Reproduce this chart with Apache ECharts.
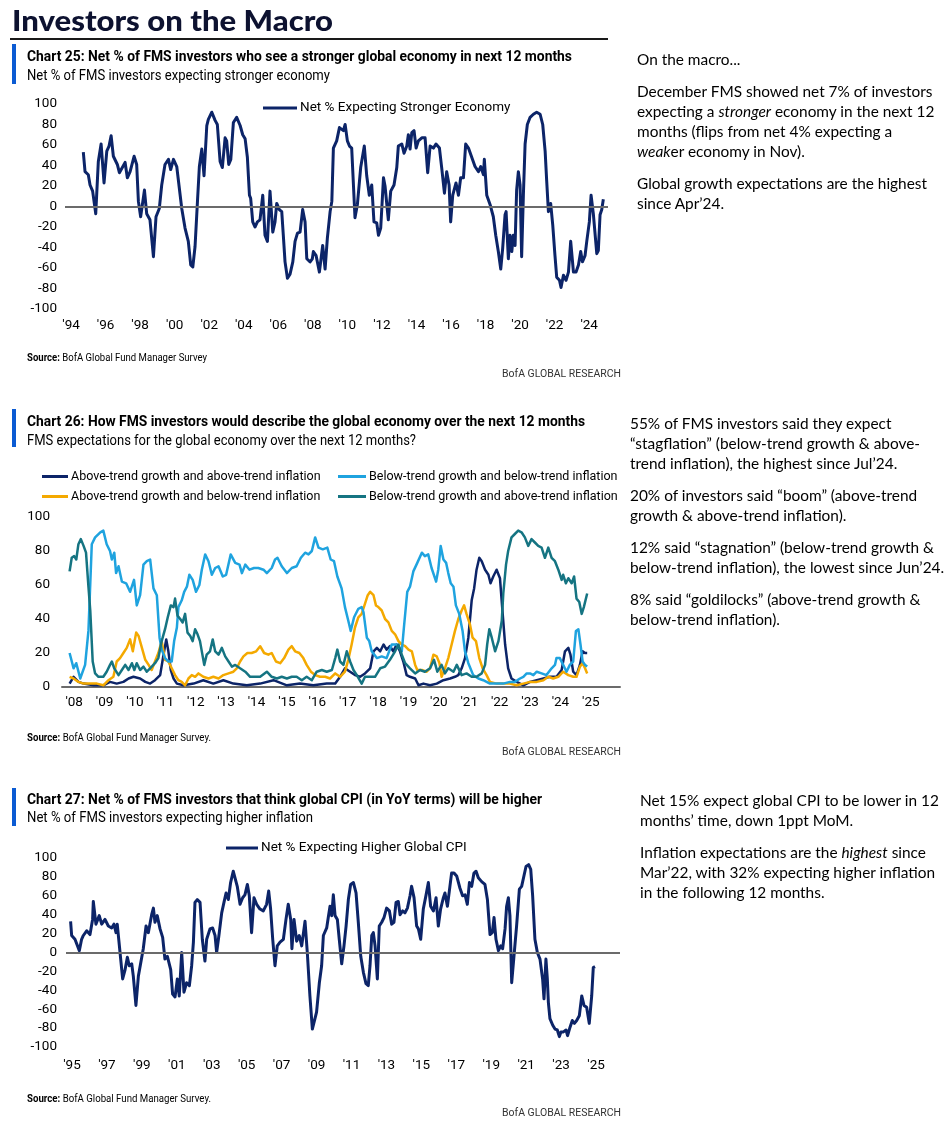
<!DOCTYPE html>
<html><head><meta charset="utf-8">
<script src="https://cdn.jsdelivr.net/npm/echarts@6/dist/echarts.min.js"></script>
<style>
body{margin:0;background:#fff;}
#wrap{position:relative;width:947px;height:1136px;overflow:hidden;background:#fff;}
#chart{position:absolute;left:0;top:0;width:947px;height:1136px;}
.t{position:absolute;white-space:nowrap;color:#000;transform-origin:0 50%;}
.h1{left:12px;top:3px;font-family:Lato,sans-serif;font-weight:900;font-size:28px;line-height:34px;color:#0d1230;}
.rule{position:absolute;left:10px;top:38px;width:598px;height:2px;background:#1a1a1a;}
.bar{position:absolute;left:12px;width:4px;background:#0b5bd3;}
.ct{left:27px;font-family:Roboto,sans-serif;font-weight:bold;font-size:14.5px;line-height:16px;}
.cs{left:27px;font-family:Roboto,sans-serif;font-size:14px;line-height:16px;}
.src{left:27px;font-family:Roboto,sans-serif;font-size:10px;line-height:12px;}
.bofa{left:502px;font-family:Roboto,sans-serif;font-size:11px;line-height:12px;color:#333;}
.body{font-family:Lato,sans-serif;font-size:15.4px;line-height:20px;}
.body p{margin:0 0 12px 0;}
</style>
</head><body>
<div id="wrap">
<div id="chart"></div>
<div class="t h1" data-w="321">Investors on the Macro</div>
<div class="rule"></div>

<div class="bar" style="top:44px;height:40px;"></div>
<div class="t ct" data-w="545" style="top:49px;">Chart 25: Net % of FMS investors who see a stronger global economy in next 12 months</div>
<div class="t cs" data-w="303" style="top:67px;">Net % of FMS investors expecting stronger economy</div>
<div class="t src" data-w="180" style="top:352px;"><b>Source:</b> BofA Global Fund Manager Survey</div>
<div class="t bofa" data-w="119" style="top:368px;">BofA GLOBAL RESEARCH</div>

<div class="bar" style="top:409px;height:38px;"></div>
<div class="t ct" data-w="558" style="top:414px;">Chart 26: How FMS investors would describe the global economy over the next 12 months</div>
<div class="t cs" data-w="389" style="top:432px;">FMS expectations for the global economy over the next 12 months?</div>
<div class="t src" data-w="184" style="top:732px;"><b>Source:</b> BofA Global Fund Manager Survey.</div>
<div class="t bofa" data-w="119" style="top:746px;">BofA GLOBAL RESEARCH</div>

<div class="bar" style="top:788px;height:38px;"></div>
<div class="t ct" data-w="515" style="top:792px;">Chart 27: Net % of FMS investors that think global CPI (in YoY terms) will be higher</div>
<div class="t cs" data-w="286" style="top:809px;">Net % of FMS investors expecting higher inflation</div>
<div class="t src" data-w="184" style="top:1093px;"><b>Source:</b> BofA Global Fund Manager Survey.</div>
<div class="t bofa" data-w="119" style="top:1107px;">BofA GLOBAL RESEARCH</div>

<div class="t body" style="left:637px;top:49px;">
<p>On the macro...</p>
<p>December FMS showed net 7% of investors<br>expecting a <i>stronger</i> economy in the next 12<br>months (flips from net 4% expecting a<br><i>weak</i>er economy in Nov).</p>
<p>Global growth expectations are the highest<br>since Apr’24.</p>
</div>
<div class="t body" style="left:630px;top:413px;">
<p>55% of FMS investors said they expect<br>“stagflation” (below-trend growth &amp; above-<br>trend inflation), the highest since Jul’24.</p>
<p>20% of investors said “boom” (above-trend<br>growth &amp; above-trend inflation).</p>
<p>12% said “stagnation” (below-trend growth &amp;<br>below-trend inflation), the lowest since Jun’24.</p>
<p>8% said “goldilocks” (above-trend growth &amp;<br>below-trend inflation).</p>
</div>
<div class="t body" style="left:640px;top:790px;">
<p>Net 15% expect global CPI to be lower in 12<br>months’ time, down 1ppt MoM.</p>
<p>Inflation expectations are the <i>highest</i> since<br>Mar’22, with 32% expecting higher inflation<br>in the following 12 months.</p>
</div>
</div>

<script>
// ---------- DATA ----------
const ticks25 = [1994,1996,1998,2000,2002,2004,2006,2008,2010,2012,2014,2016,2018,2020,2022,2024];
const ticks26 = [2008,2009,2010,2011,2012,2013,2014,2015,2016,2017,2018,2019,2020,2021,2022,2023,2024,2025];
const ticks27 = [1995,1997,1999,2001,2003,2005,2007,2009,2011,2013,2015,2017,2019,2021,2023,2025];

const names26 = ['Above-trend growth and above-trend inflation','Above-trend growth and below-trend inflation','Below-trend growth and below-trend inflation','Below-trend growth and above-trend inflation'];

// Chart 25: Net % expecting stronger economy  [year, value]
const strongerEconomy = [
[1994.71,53],[1994.81,34],[1995.00,31],[1995.10,21],[1995.25,15],[1995.43,-7],[1995.58,44],[1995.74,61],[1995.91,23],[1996.07,54],[1996.20,59],[1996.32,69],[1996.45,49],[1996.68,41],[1996.80,33],[1997.13,43],[1997.26,28],[1997.42,34],[1997.65,49],[1997.80,41],[1997.90,5],[1998.03,-10],[1998.25,16],[1998.38,-7],[1998.57,-13],[1998.77,-49],[1998.92,-10],[1999.11,-2],[1999.25,21],[1999.44,41],[1999.64,46],[1999.77,36],[1999.93,46],[2000.12,39],[2000.41,-2],[2000.60,-21],[2000.79,-34],[2000.93,-57],[2001.05,-59],[2001.18,-39],[2001.32,5],[2001.43,39],[2001.57,56],[2001.70,30],[2001.86,79],[2001.95,85],[2002.15,92],[2002.34,84],[2002.47,80],[2002.63,44],[2002.76,38],[2002.92,67],[2003.01,64],[2003.13,41],[2003.25,46],[2003.40,82],[2003.59,87],[2003.79,79],[2003.94,70],[2004.08,66],[2004.21,48],[2004.33,11],[2004.40,8],[2004.52,-15],[2004.65,-20],[2004.79,-15],[2004.94,-13],[2005.10,11],[2005.23,-28],[2005.37,-34],[2005.52,15],[2005.68,-25],[2005.81,-15],[2005.91,3],[2006.06,-3],[2006.20,-5],[2006.29,-28],[2006.39,-54],[2006.53,-70],[2006.68,-66],[2006.84,-54],[2006.97,-34],[2007.11,-26],[2007.26,-25],[2007.41,-3],[2007.55,-15],[2007.65,-51],[2007.84,-54],[2007.97,-51],[2008.03,-44],[2008.19,-48],[2008.38,-64],[2008.57,-38],[2008.71,-61],[2008.84,-31],[2009.00,-5],[2009.10,5],[2009.19,57],[2009.38,64],[2009.54,77],[2009.77,74],[2009.87,80],[2010.00,64],[2010.12,59],[2010.25,57],[2010.44,-11],[2010.58,2],[2010.77,38],[2010.98,59],[2011.12,30],[2011.27,11],[2011.41,21],[2011.54,-15],[2011.70,-16],[2011.80,-28],[2011.93,-21],[2012.09,28],[2012.18,20],[2012.37,-13],[2012.51,15],[2012.70,21],[2012.86,38],[2012.95,59],[2013.15,61],[2013.28,52],[2013.44,59],[2013.53,70],[2013.63,56],[2013.73,72],[2013.86,74],[2013.98,57],[2014.11,64],[2014.31,67],[2014.50,67],[2014.65,33],[2014.79,59],[2014.98,57],[2015.13,61],[2015.33,57],[2015.46,38],[2015.62,13],[2015.75,34],[2015.89,21],[2015.98,-15],[2016.10,11],[2016.29,23],[2016.43,11],[2016.56,28],[2016.72,28],[2016.85,61],[2017.01,57],[2017.20,48],[2017.39,39],[2017.59,34],[2017.72,39],[2017.88,31],[2017.93,46],[2018.07,11],[2018.26,2],[2018.45,-10],[2018.59,-28],[2018.74,-44],[2018.88,-61],[2018.99,-41],[2019.13,-8],[2019.19,-5],[2019.32,-51],[2019.42,-28],[2019.52,-44],[2019.61,-28],[2019.71,-38],[2019.80,16],[2019.90,34],[2020.00,21],[2020.09,-49],[2020.19,11],[2020.29,61],[2020.42,80],[2020.58,87],[2020.77,90],[2020.96,92],[2021.16,90],[2021.31,80],[2021.45,54],[2021.54,25],[2021.64,-5],[2021.77,3],[2021.89,-18],[2022.02,-48],[2022.12,-69],[2022.28,-72],[2022.37,-79],[2022.51,-67],[2022.66,-72],[2022.80,-64],[2022.93,-34],[2023.09,-64],[2023.24,-64],[2023.38,-57],[2023.51,-44],[2023.61,-54],[2023.76,-48],[2023.86,-34],[2024.01,-15],[2024.11,11],[2024.24,-7],[2024.34,-8],[2024.44,-46],[2024.53,-43],[2024.63,-8],[2024.73,-3],[2024.82,7]
];

// Chart 26: regime shares [year, %]
const boom = [
[2007.85,2],[2007.98,6],[2008.14,3],[2008.31,2],[2008.64,1],[2008.96,1],[2009.18,3],[2009.40,2],[2009.62,3],[2009.79,5],[2009.95,6],[2010.17,5],[2010.34,3],[2010.50,2],[2010.66,4],[2010.83,7],[2010.94,19],[2011.03,28],[2011.10,21],[2011.18,10],[2011.27,5],[2011.38,2],[2011.60,1],[2011.93,2],[2012.25,4],[2012.58,2],[2012.91,4],[2013.24,2],[2013.68,1],[2014.12,2],[2014.56,4],[2015.00,1],[2015.43,2],[2015.87,1],[2016.31,2],[2016.59,2],[2016.75,6],[2016.91,11],[2017.08,9],[2017.24,7],[2017.41,6],[2017.57,8],[2017.74,11],[2017.85,21],[2017.96,23],[2018.07,21],[2018.18,25],[2018.28,22],[2018.39,24],[2018.50,21],[2018.61,25],[2018.72,21],[2018.83,15],[2018.94,7],[2019.05,6],[2019.22,5],[2019.33,1],[2019.49,2],[2019.71,1],[2019.93,2],[2020.15,4],[2020.37,5],[2020.53,6],[2020.64,7],[2020.75,11],[2020.86,17],[2020.97,29],[2021.08,51],[2021.16,58],[2021.24,69],[2021.33,76],[2021.41,74],[2021.52,69],[2021.63,66],[2021.70,61],[2021.79,65],[2021.90,69],[2022.01,64],[2022.10,43],[2022.18,25],[2022.28,11],[2022.39,5],[2022.56,3],[2022.78,1],[2023.00,3],[2023.22,4],[2023.44,5],[2023.65,6],[2023.87,6],[2024.04,10],[2024.15,21],[2024.26,23],[2024.33,19],[2024.42,9],[2024.53,7],[2024.64,13],[2024.73,21],[2024.81,20],[2024.88,20]
];
const goldilocks = [
[2007.85,6],[2007.98,5],[2008.14,3],[2008.31,2],[2008.53,2],[2008.75,2],[2008.96,1],[2009.13,4],[2009.29,6],[2009.40,15],[2009.51,17],[2009.62,20],[2009.73,23],[2009.84,28],[2009.93,21],[2010.04,32],[2010.12,30],[2010.23,23],[2010.34,16],[2010.45,13],[2010.55,10],[2010.66,15],[2010.77,20],[2010.88,27],[2010.99,16],[2011.10,15],[2011.21,11],[2011.32,7],[2011.43,4],[2011.54,3],[2011.65,1],[2011.76,5],[2011.87,7],[2011.98,6],[2012.09,8],[2012.25,6],[2012.42,5],[2012.58,6],[2012.75,5],[2012.91,7],[2013.08,8],[2013.24,9],[2013.35,11],[2013.46,15],[2013.57,18],[2013.70,20],[2013.84,20],[2013.99,21],[2014.12,24],[2014.25,20],[2014.39,19],[2014.50,20],[2014.64,15],[2014.78,14],[2014.91,17],[2015.05,22],[2015.16,24],[2015.27,21],[2015.41,20],[2015.54,17],[2015.65,13],[2015.79,9],[2015.93,7],[2016.09,6],[2016.26,6],[2016.42,5],[2016.59,8],[2016.75,6],[2016.91,9],[2017.02,16],[2017.13,25],[2017.24,35],[2017.35,41],[2017.46,43],[2017.57,49],[2017.66,54],[2017.74,56],[2017.85,54],[2017.93,48],[2018.01,47],[2018.12,45],[2018.23,40],[2018.34,38],[2018.45,33],[2018.56,31],[2018.67,27],[2018.78,25],[2018.89,24],[2019.00,22],[2019.11,21],[2019.22,13],[2019.29,10],[2019.44,10],[2019.60,9],[2019.71,11],[2019.82,19],[2019.93,18],[2020.02,14],[2020.09,6],[2020.20,11],[2020.31,17],[2020.42,25],[2020.53,33],[2020.64,40],[2020.75,45],[2020.83,48],[2020.91,43],[2021.02,37],[2021.11,29],[2021.22,27],[2021.33,17],[2021.44,11],[2021.57,7],[2021.68,3],[2021.90,2],[2022.12,2],[2022.34,2],[2022.56,1],[2022.78,2],[2023.00,3],[2023.22,3],[2023.44,4],[2023.60,6],[2023.76,5],[2023.93,6],[2024.09,9],[2024.26,7],[2024.42,6],[2024.53,6],[2024.64,12],[2024.73,14],[2024.81,11],[2024.88,8]
];
const stagnation = [
[2007.85,20],[2007.98,11],[2008.07,14],[2008.20,5],[2008.36,13],[2008.47,33],[2008.58,84],[2008.69,88],[2008.86,91],[2008.96,92],[2009.07,84],[2009.18,80],[2009.24,75],[2009.32,79],[2009.38,67],[2009.46,71],[2009.57,62],[2009.71,61],[2009.84,56],[2009.97,63],[2010.06,48],[2010.17,54],[2010.28,72],[2010.39,74],[2010.50,75],[2010.61,58],[2010.72,54],[2010.81,29],[2010.88,22],[2010.99,17],[2011.10,15],[2011.21,15],[2011.29,27],[2011.38,35],[2011.43,47],[2011.54,51],[2011.62,56],[2011.71,59],[2011.79,66],[2011.90,63],[2012.01,56],[2012.12,60],[2012.20,69],[2012.31,78],[2012.42,74],[2012.53,66],[2012.64,70],[2012.75,71],[2012.89,65],[2013.00,66],[2013.15,78],[2013.30,73],[2013.44,72],[2013.52,67],[2013.63,72],[2013.77,69],[2013.92,70],[2014.06,70],[2014.23,69],[2014.34,67],[2014.50,70],[2014.61,75],[2014.69,76],[2014.83,71],[2015.00,67],[2015.16,70],[2015.32,71],[2015.46,76],[2015.60,79],[2015.71,78],[2015.82,80],[2015.93,88],[2016.04,82],[2016.18,81],[2016.33,82],[2016.44,75],[2016.55,74],[2016.66,65],[2016.80,58],[2016.91,47],[2017.02,39],[2017.10,33],[2017.21,41],[2017.35,46],[2017.46,47],[2017.52,44],[2017.63,29],[2017.71,27],[2017.79,21],[2017.96,17],[2018.12,18],[2018.28,17],[2018.45,25],[2018.61,25],[2018.78,21],[2018.85,35],[2018.96,56],[2019.05,59],[2019.16,68],[2019.29,73],[2019.44,79],[2019.54,77],[2019.65,78],[2019.76,70],[2019.91,62],[2019.98,69],[2020.06,83],[2020.15,75],[2020.24,73],[2020.31,67],[2020.39,61],[2020.48,59],[2020.56,48],[2020.67,43],[2020.78,33],[2020.86,21],[2020.97,14],[2021.13,7],[2021.30,5],[2021.46,4],[2021.68,2],[2021.90,2],[2022.12,2],[2022.34,3],[2022.50,3],[2022.67,5],[2022.78,6],[2022.89,8],[2023.00,8],[2023.11,7],[2023.22,9],[2023.38,8],[2023.54,7],[2023.71,11],[2023.82,13],[2023.87,17],[2023.98,17],[2024.09,13],[2024.20,9],[2024.31,13],[2024.42,15],[2024.51,33],[2024.59,34],[2024.66,25],[2024.73,15],[2024.81,13],[2024.88,12]
];
const stagflation = [
[2007.85,68],[2007.92,76],[2008.00,77],[2008.07,75],[2008.14,84],[2008.22,87],[2008.31,83],[2008.39,79],[2008.47,59],[2008.53,45],[2008.61,15],[2008.69,8],[2008.80,6],[2008.96,6],[2009.07,9],[2009.18,13],[2009.24,15],[2009.32,11],[2009.46,7],[2009.57,10],[2009.68,13],[2009.79,10],[2009.90,14],[2009.98,10],[2010.06,14],[2010.17,10],[2010.28,12],[2010.39,9],[2010.50,11],[2010.66,14],[2010.77,17],[2010.88,27],[2010.99,34],[2011.08,41],[2011.18,48],[2011.27,47],[2011.32,52],[2011.40,42],[2011.49,40],[2011.57,38],[2011.65,43],[2011.73,32],[2011.82,30],[2011.90,27],[2011.98,34],[2012.06,31],[2012.14,27],[2012.28,13],[2012.36,19],[2012.47,21],[2012.56,28],[2012.64,21],[2012.75,19],[2012.86,23],[2012.97,18],[2013.08,15],[2013.19,12],[2013.30,13],[2013.46,11],[2013.63,9],[2013.79,6],[2013.95,6],[2014.12,6],[2014.34,9],[2014.50,6],[2014.67,5],[2014.83,6],[2015.00,5],[2015.16,6],[2015.32,6],[2015.49,4],[2015.65,6],[2015.82,4],[2015.98,9],[2016.15,10],[2016.31,9],[2016.48,10],[2016.59,17],[2016.66,22],[2016.75,15],[2016.86,13],[2016.97,21],[2017.08,15],[2017.19,10],[2017.30,7],[2017.46,2],[2017.57,6],[2017.74,6],[2017.90,6],[2018.07,11],[2018.23,12],[2018.39,16],[2018.56,21],[2018.67,25],[2018.78,19],[2018.89,14],[2019.05,11],[2019.22,8],[2019.38,10],[2019.54,9],[2019.71,11],[2019.84,16],[2019.95,9],[2020.09,13],[2020.20,8],[2020.31,11],[2020.48,9],[2020.59,13],[2020.75,7],[2020.91,8],[2021.08,6],[2021.24,6],[2021.41,8],[2021.52,13],[2021.59,25],[2021.66,34],[2021.74,29],[2021.85,21],[2021.96,27],[2022.07,39],[2022.12,55],[2022.21,72],[2022.28,80],[2022.39,88],[2022.50,90],[2022.61,92],[2022.72,91],[2022.83,88],[2022.94,83],[2023.05,87],[2023.16,85],[2023.27,83],[2023.38,82],[2023.49,76],[2023.60,82],[2023.71,76],[2023.82,74],[2023.93,69],[2024.04,63],[2024.09,66],[2024.18,61],[2024.26,64],[2024.37,61],[2024.45,65],[2024.53,52],[2024.62,50],[2024.70,43],[2024.77,47],[2024.88,55]
];

// Chart 27: Net % expecting higher global CPI [year, value]
const higherCPI = [
[1994.92,33],[1994.98,18],[1995.17,14],[1995.42,2],[1995.55,14],[1995.65,18],[1995.84,23],[1996.03,19],[1996.18,35],[1996.22,54],[1996.37,30],[1996.56,39],[1996.70,30],[1996.89,35],[1997.08,28],[1997.27,26],[1997.40,30],[1997.52,21],[1997.59,30],[1997.75,0],[1997.90,-28],[1998.03,-19],[1998.17,-5],[1998.28,-14],[1998.42,-12],[1998.51,-25],[1998.66,-56],[1998.80,-25],[1998.89,-25],[1999.08,4],[1999.24,28],[1999.37,21],[1999.56,40],[1999.66,47],[1999.75,32],[1999.88,39],[2000.04,25],[2000.19,16],[2000.32,-7],[2000.46,-4],[2000.65,-18],[2000.76,-44],[2000.90,-47],[2001.03,-28],[2001.14,-46],[2001.28,0],[2001.41,-42],[2001.56,-32],[2001.72,-35],[2001.85,-14],[2001.95,11],[2002.04,53],[2002.17,56],[2002.33,53],[2002.46,14],[2002.61,-9],[2002.71,14],[2002.90,25],[2003.05,26],[2003.19,18],[2003.28,0],[2003.41,18],[2003.57,42],[2003.70,53],[2003.82,63],[2003.95,56],[2004.08,74],[2004.23,86],[2004.33,88],[2004.46,70],[2004.62,51],[2004.77,58],[2004.90,61],[2005.04,72],[2005.15,60],[2005.28,21],[2005.42,58],[2005.57,51],[2005.76,46],[2005.95,44],[2006.14,51],[2006.26,65],[2006.37,46],[2006.49,14],[2006.62,-14],[2006.75,7],[2006.91,11],[2007.10,14],[2007.25,35],[2007.38,51],[2007.52,35],[2007.59,4],[2007.71,35],[2007.86,12],[2008.01,18],[2008.15,7],[2008.34,33],[2008.47,0],[2008.62,-46],[2008.76,-81],[2008.85,-82],[2009.00,-63],[2009.16,-32],[2009.29,-14],[2009.39,18],[2009.58,26],[2009.67,37],[2009.77,49],[2009.87,39],[2009.96,61],[2010.06,39],[2010.19,35],[2010.30,14],[2010.44,-12],[2010.57,7],[2010.69,28],[2010.82,56],[2010.95,72],[2011.11,74],[2011.26,63],[2011.39,32],[2011.53,-4],[2011.68,-21],[2011.83,-33],[2011.96,-35],[2012.06,-14],[2012.16,18],[2012.25,21],[2012.35,7],[2012.48,-28],[2012.59,28],[2012.73,32],[2012.86,37],[2013.01,47],[2013.17,44],[2013.30,30],[2013.43,32],[2013.55,53],[2013.68,54],[2013.78,40],[2013.93,44],[2014.06,42],[2014.20,47],[2014.35,60],[2014.44,70],[2014.58,58],[2014.73,28],[2014.83,25],[2014.96,14],[2015.11,46],[2015.27,61],[2015.40,74],[2015.53,49],[2015.69,44],[2015.84,58],[2015.97,28],[2016.10,46],[2016.26,58],[2016.35,63],[2016.49,49],[2016.60,65],[2016.73,84],[2016.87,84],[2017.02,81],[2017.21,68],[2017.36,60],[2017.50,61],[2017.63,51],[2017.75,74],[2017.88,70],[2018.01,84],[2018.13,86],[2018.26,79],[2018.45,75],[2018.64,72],[2018.78,56],[2018.93,19],[2019.06,21],[2019.16,37],[2019.27,14],[2019.41,2],[2019.54,7],[2019.65,4],[2019.79,25],[2019.88,49],[2019.98,58],[2020.07,39],[2020.17,-32],[2020.30,-4],[2020.45,28],[2020.61,67],[2020.74,70],[2020.87,81],[2020.99,91],[2021.14,93],[2021.26,88],[2021.37,60],[2021.50,14],[2021.64,0],[2021.79,-7],[2021.94,-28],[2022.02,-49],[2022.13,-7],[2022.21,-28],[2022.27,-53],[2022.36,-70],[2022.52,-77],[2022.65,-81],[2022.78,-82],[2022.90,-89],[2022.99,-84],[2023.13,-84],[2023.28,-82],[2023.37,-88],[2023.51,-79],[2023.64,-72],[2023.76,-75],[2023.89,-72],[2024.04,-67],[2024.18,-46],[2024.31,-56],[2024.46,-58],[2024.61,-75],[2024.75,-46],[2024.84,-16],[2024.94,-15]
];

// ---------- TEXT FITTING (layout only) ----------
function fitText() {
  document.querySelectorAll('[data-w]').forEach(function (el) {
    el.style.transform = 'none';
    var w = el.getBoundingClientRect().width;
    var target = parseFloat(el.getAttribute('data-w'));
    if (w > 0) el.style.transform = 'scaleX(' + (target / w) + ')';
  });
}
fitText();
if (document.fonts && document.fonts.ready) document.fonts.ready.then(fitText);

// ---------- STYLE ----------
const NAVY = '#0c2468', LBLUE = '#1fa3df', GOLD = '#f4a900', TEAL = '#157482', GREY = '#6b6b6b';
const FN = 'Roboto, sans-serif';
const yr = v => "'" + String(Math.round(v)).slice(2);
const lab = (m) => ({fontSize: 13.5, fontFamily: FN, color: '#000', margin: m});

function xA(grid, min, max, ticks, margin, line) {
  return {gridIndex: grid, type: 'value', min: min, max: max,
    axisLine: {show: !!line, onZero: false, lineStyle: {color: GREY, width: 2}},
    axisTick: {show: false}, splitLine: {show: false},
    axisLabel: Object.assign(lab(margin), {customValues: ticks, formatter: yr})};
}
function yA(grid, min, max, margin) {
  return {gridIndex: grid, type: 'value', min: min, max: max, interval: 20,
    axisLine: {show: false}, axisTick: {show: false}, splitLine: {show: false},
    axisLabel: lab(margin)};
}
function lg(name, left, top, w, fs) {
  return {data: [name], left: left, top: top, icon: 'rect', itemWidth: w, itemHeight: 3,
    padding: 0, itemGap: 0, selectedMode: false,
    textStyle: {fontSize: fs, fontFamily: FN, color: '#000', padding: [0,0,0,-2]}};
}
const zeroLine = {silent: true, symbol: 'none', label: {show: false},
  lineStyle: {color: GREY, width: 2, type: 'solid'}, data: [{yAxis: 0}]};
function ln(name, data, color, xi, w, extra) {
  return Object.assign({name: name, type: 'line', xAxisIndex: xi, yAxisIndex: xi, data: data,
    showSymbol: false, symbol: 'none', color: color,
    lineStyle: {color: color, width: w, join: 'round'}}, extra || {});
}

const chart = echarts.init(document.getElementById('chart'), null, {renderer: 'canvas'});
chart.setOption({
  animation: false,
  backgroundColor: 'transparent',
  grid: [
    {left: 65, top: 104, width: 543, height: 205},
    {left: 62, top: 517, width: 558, height: 170},
    {left: 66, top: 858, width: 554, height: 189}
  ],
  xAxis: [
    xA(0, 1993.65, 2025.09, ticks25, 10, false),
    xA(1, 2007.6, 2025.96, ticks26, 9, true),
    xA(2, 1994.657, 2026.37, ticks27, 12, false)
  ],
  yAxis: [yA(0, -100, 100, 8), yA(1, 0, 100, 12), yA(2, -100, 100, 9)],
  legend: [
    lg('Net % Expecting Stronger Economy', 263, 101, 34, 13.5),
    lg(names26[0], 42, 470, 26, 12.5),
    lg(names26[1], 42, 490, 26, 12.5),
    lg(names26[2], 338, 470, 28, 12.5),
    lg(names26[3], 338, 490, 28, 12.5),
    lg('Net % Expecting Higher Global CPI', 226, 841, 32, 13.5)
  ],
  series: [
    ln('Net % Expecting Stronger Economy', strongerEconomy, NAVY, 0, 3, {markLine: zeroLine, z: 3}),
    ln(names26[0], boom, NAVY, 1, 2.5),
    ln(names26[1], goldilocks, GOLD, 1, 2.5),
    ln(names26[2], stagnation, LBLUE, 1, 2.5),
    ln(names26[3], stagflation, TEAL, 1, 2.5),
    ln('Net % Expecting Higher Global CPI', higherCPI, NAVY, 2, 3, {markLine: zeroLine, z: 3})
  ]
});
</script>
</body></html>
